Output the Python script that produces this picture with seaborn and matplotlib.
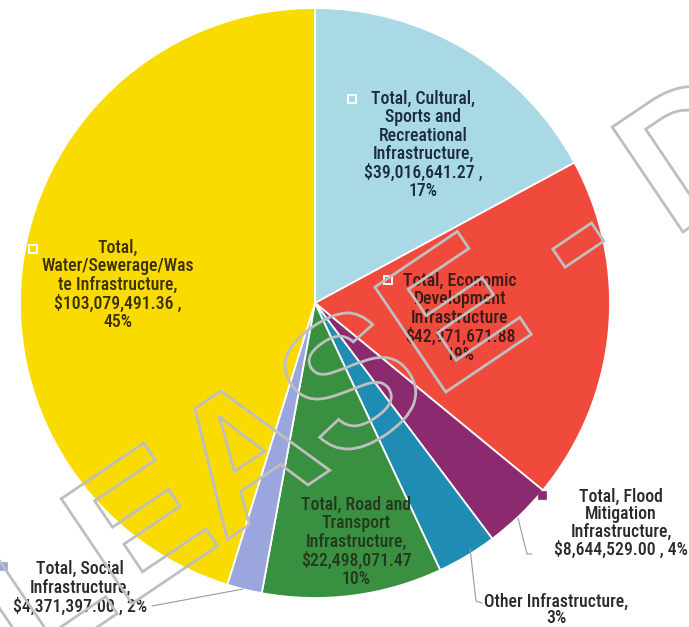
import matplotlib
matplotlib.use("Agg")
import os
import matplotlib.pyplot as plt
import matplotlib.font_manager as fm
import seaborn as sns
import numpy as np
from matplotlib.textpath import TextPath
from matplotlib.font_manager import FontProperties
from matplotlib.patches import PathPatch
from matplotlib.transforms import Affine2D

# ---------------- data ----------------
categories = [
    "Total, Cultural, Sports and Recreational Infrastructure",
    "Total, Economic Development Infrastructure",
    "Total, Flood Mitigation Infrastructure",
    "Other Infrastructure",
    "Total, Road and Transport Infrastructure",
    "Total, Social Infrastructure",
    "Total, Water/Sewerage/Waste Infrastructure",
]
values = [39016641.27, 42971671.88, 8644529.00, 7500000.00,
          22498071.47, 4371397.00, 103079491.36]
percent_labels = ["17%", "19%", "4%", "3%", "10%", "2%", "45%"]
label_texts = [
    "Total, Cultural,\nSports and\nRecreational\nInfrastructure,\n$39,016,641.27 ,\n17%",
    "Total, Economic\nDevelopment\nInfrastructure\n$42,971,671.88\n19%",
    "Total, Flood\nMitigation\nInfrastructure,\n$8,644,529.00 , 4%",
    "Other Infrastructure,\n3%",
    "Total, Road and\nTransport\nInfrastructure,\n$22,498,071.47\n10%",
    "Total, Social\nInfrastructure,\n$4,371,397.00 , 2%",
    "Total,\nWater/Sewerage/Was\nte Infrastructure,\n$103,079,491.36 ,\n45%",
]
colors = sns.color_palette(["#a8d9e4", "#f04a3d", "#8c2a70", "#1f8db3",
                            "#3a9041", "#9ba6df", "#f9db00"])
text_colors = ["#1c2b44", "#3a1c18", "#2a2a2a", "#2a2a2a", "#24381f", "#2a2a2a", "#3a3000"]

# ---------------- fonts ----------------
sns.set_theme(style="white")


def norm(s):
    return s.lower().replace("-", "").replace("_", "").replace(" ", "")


def find_font(prefs):
    files = [f.fname for f in fm.fontManager.ttflist]
    for p in prefs:
        for fn in files:
            base = norm(os.path.splitext(os.path.basename(fn))[0])
            if base == norm(p):
                return fn
    return None


label_file = find_font(["RobotoCondensed-Medium", "RobotoCondensed-Bold",
                        "RobotoCondensed-Regular", "LiberationSansNarrow-Bold",
                        "LiberationSansNarrow-Regular", "DejaVuSansCondensed-Bold"])
if label_file is not None:
    label_fp = FontProperties(fname=label_file, size=12.8)
else:
    label_fp = FontProperties(family=["Roboto", "DejaVu Sans"], weight="medium", size=10.4)

W, H = 689, 627
fig = plt.figure(figsize=(W / 100, H / 100), dpi=100)
ax = fig.add_axes([0, 0, 1, 1])


def Y(y):
    return H - y


cx, cy, r = 315, 303, 295
ax.pie(values, colors=colors, startangle=90, counterclock=False,
       center=(cx, Y(cy)), radius=r,
       wedgeprops=dict(edgecolor="white", linewidth=1.3))
ax.set_xlim(0, W)
ax.set_ylim(0, H)
ax.set_aspect("equal")
ax.axis("off")

# label placement (image pixel coords): text centre, marker position
label_pos = [(423, 145), (460, 318), (621, 523), (556, 610), (356, 542), (80, 588), (118, 285)]
marker_pos = [(352, 99), (388, 280), (542, 495), None, None, (3, 566), (33, 249)]
inside = [True, True, False, False, True, False, True]
line_sp = [1.02, 1.05, 0.98, 0.9, 1.05, 1.08, 1.03]

for i, txt in enumerate(label_texts):
    x, y = label_pos[i]
    ax.text(x, Y(y), txt, ha="center", va="center", fontproperties=label_fp,
            color=text_colors[i], linespacing=line_sp[i], zorder=5)
    if marker_pos[i] is not None:
        mx, my = marker_pos[i]
        ax.plot([mx], [Y(my)], marker="s", markersize=5.5,
                mfc=colors[i], mec="white" if inside[i] else colors[i],
                mew=1.4 if inside[i] else 0.5, zorder=6)

# leader lines
lc = "#9a9a9a"
ax.plot([152, 243], [Y(606), Y(589)], color=lc, lw=0.8, zorder=4)
ax.plot([470, 476, 482], [Y(548), Y(601), Y(603)], color=lc, lw=0.8, zorder=4)
ax.plot([518, 527, 532], [Y(518), Y(554), Y(554)], color=lc, lw=0.8, zorder=4)

# watermark outline text
fp = FontProperties(family="Liberation Sans", weight="bold")
size = 184
full = TextPath((0, 0), "RELEASE - DRAFT", size=size, prop=fp)
upto_d = TextPath((0, 0), "RELEASE - D", size=size, prop=fp).get_extents()
d_only = TextPath((0, 0), "D", size=size, prop=fp).get_extents()
d_left = upto_d.x1 - (d_only.x1 - d_only.x0)
tr = Affine2D().translate(-d_left, 0).rotate_deg(34).translate(683, Y(232))
patch = PathPatch(tr.transform_path(full), facecolor="none",
                  edgecolor="#bfbfbf", lw=2.0, zorder=10)
ax.add_patch(patch)

fig.savefig("out.png", dpi=100)
